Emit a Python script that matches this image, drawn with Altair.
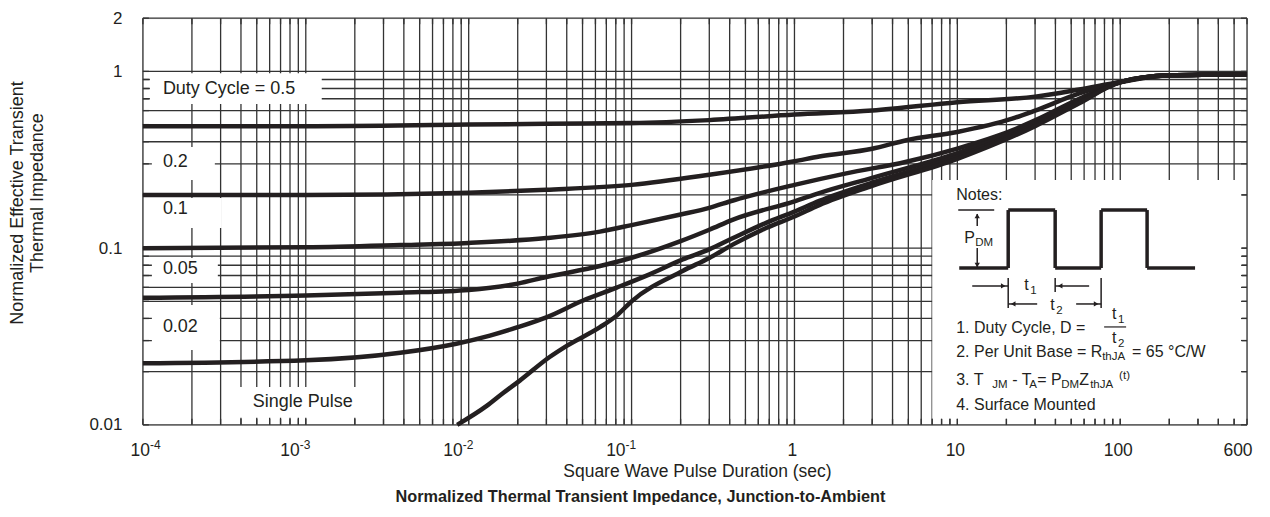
import altair as alt
import pandas as pd

# ---------------- data ----------------
X_DOMAIN = [1e-4, 600]
Y_DOMAIN = [0.01, 2]

X_GRID = [m * 10.0 ** e for e in range(-4, 3) for m in range(1, 10) if m * 10.0 ** e <= 600]
Y_GRID = [m * 10.0 ** e for e in (-2, -1, 0) for m in range(1, 10) if m * 10.0 ** e <= 2]

X_DECADES = [1e-3, 1e-2, 1e-1]
X_DECADE_EXP = ["-3", "-2", "-1"]
X_FIRST = [1e-4]
X_FIRST_EXP = ["-4"]
X_PLAIN = [1, 10, 100]
X_PLAIN_TEXT = ["1", "10", "100"]
X_LAST = [600]
X_LAST_TEXT = ["600"]
Y_TICKS = [0.01, 0.1, 1, 2]
Y_TICK_TEXT = ["0.01", "0.1", "1", "2"]

SERIES = ["0.5", "0.2", "0.1", "0.05", "0.02", "Single Pulse"]

T_05 = [1e-4, 1e-3, 1e-2, 0.03, 0.1, 0.3, 1, 3, 10, 30, 56, 100, 200, 600]
Z_05 = [0.49, 0.49, 0.50, 0.505, 0.51, 0.53, 0.57, 0.60, 0.67, 0.72, 0.79, 0.87, 0.95, 0.965]

T_02 = [1e-4, 1e-3, 1e-2, 0.03, 0.1, 0.3, 1, 1.42, 3, 4.87, 10, 21.7, 30, 56, 89, 200, 600]
Z_02 = [0.20, 0.20, 0.206, 0.214, 0.228, 0.26, 0.31, 0.33, 0.365, 0.408, 0.454, 0.54, 0.60, 0.75, 0.85, 0.95, 0.965]

T_01 = [1e-4, 1e-3, 3.8e-3, 1e-2, 0.03, 0.064, 0.1, 0.2, 0.3, 0.42, 1, 2.08, 4.87, 10, 21.7, 30, 56, 89, 200, 600]
Z_01 = [0.10, 0.101, 0.104, 0.107, 0.114, 0.124, 0.135, 0.155, 0.169, 0.186, 0.228, 0.265, 0.308, 0.366, 0.464, 0.528, 0.70, 0.84, 0.95, 0.965]

T_005 = [1e-4, 1e-3, 3.8e-3, 1e-2, 0.02, 0.03, 0.064, 0.1, 0.2, 0.3, 0.42, 1, 1.42, 3, 10, 30, 56, 100, 200, 600]
Z_005 = [0.0524, 0.054, 0.056, 0.058, 0.063, 0.0687, 0.0792, 0.0882, 0.1095, 0.127, 0.145, 0.184, 0.205, 0.25, 0.345, 0.51, 0.68, 0.87, 0.95, 0.965]

T_002 = [1e-4, 1e-3, 3.8e-3, 8.4e-3, 0.0135, 0.02, 0.03, 0.05, 0.081, 0.129, 0.206, 0.3, 0.42, 0.67, 1, 1.42, 3, 10, 30, 56, 100, 200, 600]
Z_002 = [0.0223, 0.0232, 0.0256, 0.0288, 0.032, 0.0357, 0.0406, 0.0504, 0.0598, 0.0711, 0.0863, 0.0984, 0.114, 0.139, 0.161, 0.185, 0.235, 0.33, 0.50, 0.67, 0.87, 0.95, 0.965]

T_SP = [0.0085, 0.0129, 0.0162, 0.0206, 0.0314, 0.04, 0.064, 0.081, 0.1, 0.206, 0.3, 0.42, 0.67, 1, 1.42, 3, 10, 30, 56, 100, 200, 600]
Z_SP = [0.010, 0.0128, 0.0151, 0.0178, 0.0242, 0.028, 0.0357, 0.0415, 0.050, 0.0743, 0.088, 0.105, 0.13, 0.151, 0.175, 0.225, 0.32, 0.49, 0.66, 0.87, 0.95, 0.965]

CURVE_LABELS = ["Duty Cycle = 0.5", "0.2", "0.1", "0.05", "0.02", "Single Pulse"]
X_TITLE = "Square Wave Pulse Duration (sec)"
Y_TITLE = ["Normalized Effective Transient", "Thermal Impedance"]
CAPTION = "Normalized Thermal Transient Impedance, Junction-to-Ambient"

# ---------------- styling / layout ----------------
LEFT, TOP = 143, 18          # plot origin on the page
W, H = 1105, 407
FONT = "Liberation Sans"
INK = "#231f20"
GRID = "#333333"


def px(x):
    return x - LEFT


def py(y):
    return y - TOP


xs = alt.Scale(type="log", domain=X_DOMAIN, nice=False)
ys = alt.Scale(type="log", domain=Y_DOMAIN, nice=False)


def expr_map(vals, texts):
    arr_t = "[" + ",".join("'" + t + "'" for t in texts) + "]"
    arr_v = "[" + ",".join(repr(float(v)) for v in vals) + "]"
    return arr_t + "[indexof(" + arr_v + ", datum.value)]"


yaxis = alt.Axis(values=Y_TICKS, labelExpr=expr_map(Y_TICKS, Y_TICK_TEXT), grid=False, ticks=False,
                 domain=False, labelFontSize=17, labelPadding=21, labelColor=INK, labelFont=FONT,
                 labelFlush=False, labelOverlap=False, title=None)

ONE = pd.DataFrame({"k": [0]})
xg_df = pd.DataFrame({"t": X_GRID})
yg_df = pd.DataFrame({"z": Y_GRID})

layers = []

# grid lines
layers.append(alt.Chart(xg_df).mark_rule(color=GRID, strokeWidth=1.3).encode(
    x=alt.X("t:Q", scale=xs, axis=None)))
layers.append(alt.Chart(yg_df).mark_rule(color=GRID, strokeWidth=1.3).encode(
    y=alt.Y("z:Q", scale=ys, axis=yaxis)))


def box(x1, y1, x2, y2):
    return alt.Chart(ONE).mark_rect(color="white").encode(
        x=alt.value(px(x1)), x2=alt.value(px(x2)), y=alt.value(py(y1)), y2=alt.value(py(y2)))


# white label boxes (page coordinates)
layers += [
    box(150, 73, 322, 104),
    box(152, 147, 215, 180),
    box(150, 198, 222, 228),
    box(152, 258, 218, 283),
    box(152, 305, 220, 350),
    box(228, 387, 365, 418),
    box(933, 180, 1243, 419),
]

# inward ticks along the frame
TK = 6
layers.append(alt.Chart(xg_df).mark_rule(color=GRID, strokeWidth=1.3).encode(
    x=alt.X("t:Q", scale=xs), y=alt.value(H - TK), y2=alt.value(H)))
layers.append(alt.Chart(xg_df).mark_rule(color=GRID, strokeWidth=1.3).encode(
    x=alt.X("t:Q", scale=xs), y=alt.value(0), y2=alt.value(TK)))
layers.append(alt.Chart(yg_df).mark_rule(color=GRID, strokeWidth=1.3).encode(
    y=alt.Y("z:Q", scale=ys), x=alt.value(0), x2=alt.value(TK)))
layers.append(alt.Chart(yg_df).mark_rule(color=GRID, strokeWidth=1.3).encode(
    y=alt.Y("z:Q", scale=ys), x=alt.value(W - TK), x2=alt.value(W)))

# curves
rows = []
for name, ts, zs in zip(SERIES, [T_05, T_02, T_01, T_005, T_002, T_SP], [Z_05, Z_02, Z_01, Z_005, Z_002, Z_SP]):
    for t, z in zip(ts, zs):
        rows.append({"t": t, "z": z, "s": name})
curves = pd.DataFrame(rows)
layers.append(alt.Chart(curves).mark_line(color=INK, strokeWidth=4.5, interpolate="monotone",
                                          strokeCap="butt").encode(
    x=alt.X("t:Q", scale=xs), y=alt.Y("z:Q", scale=ys), detail="s:N"))

# x tick labels (10 with superscript exponent), driven by the x scale
XL_Y = py(451)


def xlabels(vals, texts, align, dx, fs, dy=0):
    df = pd.DataFrame({"t": vals, "lab": texts})
    return alt.Chart(df).mark_text(align=align, baseline="middle", fontSize=fs, font=FONT, color=INK,
                                   dx=dx, dy=dy).encode(
        x=alt.X("t:Q", scale=xs), y=alt.value(XL_Y), text="lab:N")


layers.append(xlabels(X_DECADES, ["10"] * len(X_DECADES), "right", -6, 17.5))
layers.append(xlabels(X_DECADES, X_DECADE_EXP, "left", -6, 12, -6))
layers.append(xlabels(X_FIRST, ["10"], "right", 7, 17.5))
layers.append(xlabels(X_FIRST, X_FIRST_EXP, "left", 7, 12, -6))
layers.append(xlabels(X_PLAIN, X_PLAIN_TEXT, "center", -2, 17.5))
layers.append(xlabels(X_LAST, X_LAST_TEXT, "center", -9, 17.5))


def txt(s, x, y, fs, align="left", angle=None, weight="normal"):
    kw = dict(text=s, align=align, baseline="middle", fontSize=fs, font=FONT, color=INK, fontWeight=weight)
    if angle is not None:
        kw["angle"] = angle
    return alt.Chart(ONE).mark_text(**kw).encode(x=alt.value(px(x)), y=alt.value(py(y)))


def seg(x1, y1, x2, y2, w=1.5):
    return alt.Chart(ONE).mark_rule(color=INK, strokeWidth=w).encode(
        x=alt.value(px(x1)), y=alt.value(py(y1)), x2=alt.value(px(x2)), y2=alt.value(py(y2)))


def head(x, y, shape, size=30):
    return alt.Chart(ONE).mark_point(shape=shape, filled=True, size=size, color=INK, opacity=1).encode(
        x=alt.value(px(x)), y=alt.value(py(y)))


# curve labels (page coordinates)
LABEL_POS = [(163, 89), (163, 162), (163, 209), (163, 269), (163, 327), (253, 402)]
for s, (x, y) in zip(CURVE_LABELS, LABEL_POS):
    layers.append(txt(s, x, y, 18))

# axis titles
layers.append(txt(Y_TITLE[0], 18.5, 203, 18, align="center", angle=270))
layers.append(txt(Y_TITLE[1], 38.5, 193, 18, align="center", angle=270))
layers.append(txt(X_TITLE, 698, 472, 17.5, align="center"))
layers.append(txt(CAPTION, 641, 497, 16.3, align="center", weight="bold"))

# ---- notes box ----
layers.append(txt("Notes:", 957, 195, 16))
WAVE = [(960, 268), (1009, 268), (1009, 210), (1056, 210), (1056, 268), (1102, 268), (1102, 210),
        (1148, 210), (1148, 268), (1196, 268)]
for (a, b), (c, d) in zip(WAVE[:-1], WAVE[1:]):
    layers.append(seg(a, b, c, d, 3.5))
# P_DM dimension
layers.append(seg(959, 210, 995, 210, 1.5))
layers.append(seg(978, 214, 978, 226, 1.5))
layers.append(head(978, 216, "triangle-up", 28))
layers.append(seg(978, 248, 978, 268, 1.5))
layers.append(head(978, 265, "triangle-down", 28))
layers.append(txt("P", 965, 238, 16))
layers.append(txt("DM", 976, 243, 11.5))
# t1 dimension
layers.append(seg(973, 286, 1009, 286, 1.5))
layers.append(head(1004, 286, "triangle-right", 28))
layers.append(seg(1009, 278, 1009, 308, 1.5))
layers.append(seg(1090, 286, 1056, 286, 1.5))
layers.append(head(1061, 286, "triangle-left", 28))
layers.append(seg(1056, 278, 1056, 292, 1.5))
layers.append(txt("t", 1025, 285, 16))
layers.append(txt("1", 1031, 291, 11.5))
# t2 dimension
layers.append(seg(1102, 278, 1102, 308, 1.5))
layers.append(seg(1038, 304, 1009, 304, 1.5))
layers.append(head(1014, 304, "triangle-left", 28))
layers.append(seg(1077, 304, 1102, 304, 1.5))
layers.append(head(1097, 304, "triangle-right", 28))
layers.append(txt("t", 1051, 305, 16))
layers.append(txt("2", 1057, 311, 11.5))
# note 1
layers.append(txt("1. Duty Cycle, D =", 957, 328, 16))
layers.append(txt("t", 1113, 314, 16))
layers.append(txt("1", 1119, 320, 11.5))
layers.append(seg(1105, 327, 1127, 327, 1.2))
layers.append(txt("t", 1113, 338, 16))
layers.append(txt("2", 1119, 344, 11.5))
# note 2
layers.append(txt("2. Per Unit Base = R", 957, 352, 16))
layers.append(txt("thJA", 1103, 357, 11.5))
layers.append(txt("= 65 °C/W", 1133, 352, 16))
# note 3
layers.append(txt("3. T", 957, 380, 16))
layers.append(txt("JM", 993, 385, 11.5))
layers.append(txt("- T", 1013, 380, 16))
layers.append(txt("A", 1030, 385, 11.5))
layers.append(txt("= P", 1038, 380, 16))
layers.append(txt("DM", 1062, 385, 11.5))
layers.append(txt("Z", 1080, 380, 16))
layers.append(txt("thJA", 1091, 385, 11.5))
layers.append(txt("(t)", 1120, 376, 11.5))
# note 4
layers.append(txt("4. Surface Mounted", 957, 405, 16))

chart = alt.layer(*layers).properties(
    width=W, height=H,
    padding={"left": LEFT - 8, "top": TOP - 8, "right": 15, "bottom": 88},
    autosize=alt.AutoSizeParams(type="none"),
).configure_view(stroke=INK, strokeWidth=2.5).configure(font=FONT)

chart.save("out.html", embed_options={"renderer": "svg", "actions": False})
